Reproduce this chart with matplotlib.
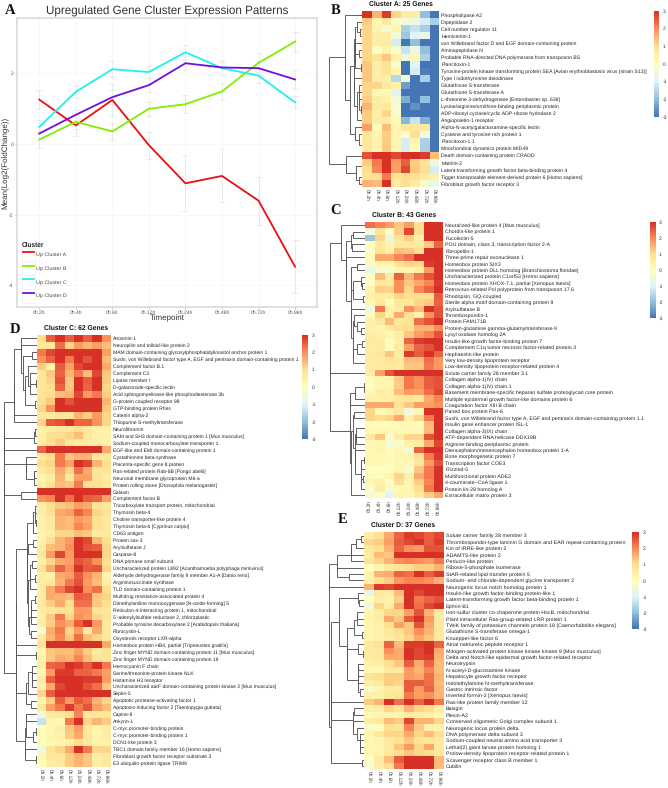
import numpy as np
import matplotlib
matplotlib.use("Agg")
import matplotlib.pyplot as plt
from matplotlib.colors import LinearSegmentedColormap, Normalize
from matplotlib.cm import ScalarMappable
from matplotlib.legend_handler import HandlerTuple, HandlerLine2D
from matplotlib.lines import Line2D
from matplotlib.patches import Patch

plt.rcParams['font.family'] = ['Liberation Sans', 'DejaVu Sans']
plt.rcParams['axes.unicode_minus'] = False
plt.rcParams['text.hinting'] = 'no_hinting'

W, H = 668, 788

#################################################################
# data
#################################################################

timepoints = ["0h.2h", "0h.4h", "0h.6h", "0h.12h", "0h.24h", "0h.48h", "0h.72h", "0h.96h"]

up_a = [1.26, 0.53, 1.25, -0.03, -1.11, -0.90, -1.60, -3.47]
up_b = [0.13, 0.63, 0.36, 1.00, 1.13, 1.49, 2.30, 2.90]
up_c = [0.49, 1.48, 2.12, 2.04, 2.60, 2.15, 1.94, 1.18]
up_d = [0.30, 0.83, 1.33, 1.67, 2.29, 2.17, 2.15, 1.83]
err_a = [0.26, 0.30, 0.45, 0.38, 0.79, 0.75, 0.68, 0.75]
err_b = [0.25, 0.20, 0.25, 0.20, 0.25, 0.23, 0.27, 0.28]
err_c = [0.20, 0.17, 0.23, 0.17, 0.20, 0.18, 0.20, 0.17]
err_d = [0.20, 0.15, 0.20, 0.20, 0.20, 0.20, 0.20, 0.27]

genes_a = ["Phospholipase A2", "Dipeptidase 2", "Cell number regulator 11", "Hemicentin-1",
    "von Willebrand factor D and EGF domain-containing protein", "Aminopeptidase N",
    "Probable RNA-directed DNA polymerase from transposon BS", "Plancitoxin-1",
    "Tyrosine-protein kinase transforming protein SEA [Avian erythroblastosis virus (strain S13)]",
    "Type I iodothyronine deiodinase", "Glutathione S-transferase", "Glutathione S-transferase A",
    "L-threonine 3-dehydrogenase [Enterobacter sp. 638]", "Lysine/arginine/ornithine-binding periplasmic protein",
    "ADP-ribosyl cyclase/cyclic ADP-ribose hydrolase 2", "Angiopoietin-1 receptor",
    "Alpha-N-acetylgalactosamine-specific lectin", "Cysteine and tyrosine-rich protein 1", "Plancitoxin-1.1",
    "Mitochondrial dynamics protein MID49", "Death domain-containing protein CRADD", "Matrilin-2",
    "Latent-transforming growth factor beta-binding protein 4",
    "Tigger transposable element-derived protein 6 [Homo sapiens]", "Fibroblast growth factor receptor 3"]
vals_a = [
    [3, 1.4, 2.6, 1, .5, .5, -1.8, -2.8],
    [1.1, .3, .7, -.2, -.4, -.5, -1, -1.5],
    [1, .3, -.3, .3, -1.5, -1.2, -1.5, -3],
    [1, .5, .5, -.4, -1.7, -.9, -.7, -3],
    [1, .5, .5, -1, -3, -1.8, -3, -3],
    [1, -.1, .4, -.2, -1.2, -.5, -1.8, -3],
    [1, .8, 1.2, .4, -.6, .2, -1.5, -3],
    [1.2, .5, .8, -.3, -3, -.9, -3, -3],
    [1.2, .5, .8, .3, -3, -1, -2.6, -3],
    [1.2, .5, .5, -1.4, -.3, -3, -1.5, -3],
    [1, 1, .6, .4, -2.2, -3, -3, -3],
    [1, .2, .2, -.8, -3, -3, -3, -3],
    [1.1, .5, .4, -.4, -2, -3, -1.8, -3],
    [1.4, .6, .7, -.3, -3, -2.4, -2.7, -3],
    [1.1, .5, 1, -.2, -3, -3, -3, -3],
    [1.1, .5, .5, .2, -1.9, -1.2, -2, -2.8],
    [1.6, .1, 1.3, .3, .7, .7, .7, -3],
    [.7, .3, 1.1, .3, -.2, .9, -.4, -3],
    [.7, .4, 1.1, .3, -1, .3, -1.5, -3],
    [.7, .3, 1.2, .3, -1, .1, -1.5, -3],
    [2.4, 2.8, 3, 2.5, 3, 3, 2.6, 1.3],
    [1.1, 2, 3, 1.7, 2.3, 1.1, .8, -.5],
    [.9, 1.9, 3, 1.6, 2.5, 1.2, .9, -1],
    [.8, .9, 2, .8, .9, .9, .6, .4],
    [1.4, 1.3, 2.8, .6, .9, .6, -.2, -.5]]

genes_b = ["Neuralized-like protein 4 [Mus musculus]", "Chordin-like protein 1", "Fucolectin-5",
    "POU domain, class 3, transcription factor 2-A", "Fibropellin-1", "Three-prime repair exonuclease 1",
    "Homeobox protein SIX3", "Homeobox protein DLL homolog [Branchiostoma floridae]",
    "Uncharacterized protein C1orf53 [Homo sapiens]", "Homeobox protein XHOX-7.1, partial [Xenopus laevis]",
    "Retrovirus-related Pol polyprotein from transposon 17.6", "Rhodopsin, GQ-coupled",
    "Sterile alpha motif domain-containing protein 9", "Arylsulfatase B", "Thrombospondin-1", "Protein FAM171B",
    "Protein-glutamine gamma-glutamyltransferase K", "Lysyl oxidase homolog 2A",
    "Insulin-like growth factor-binding protein 7", "Complement C1q tumor necrosis factor-related protein 3",
    "Hephaestin-like protein", "Very low-density lipoprotein receptor",
    "Low-density lipoprotein receptor-related protein 4", "Solute carrier family 28 member 3.1",
    "Collagen alpha-1(IV) chain", "Collagen alpha-1(IV) chain.1",
    "Basement membrane-specific heparan sulfate proteoglycan core protein",
    "Multiple epidermal growth factor-like domains protein 6", "Coagulation factor XIII B chain",
    "Paired box protein Pax-6", "Sushi, von Willebrand factor type A, EGF and pentraxin domain-containing protein 1.1",
    "Insulin gene enhancer protein ISL-1", "Collagen alpha-3(IX) chain", "ATP-dependent RNA helicase DDX19B",
    "Arginine-binding periplasmic protein", "Diencephalon/mesencephalon homeobox protein 1-A",
    "Bone morphogenetic protein 7", "Transcription factor COE3", "Frizzled-5", "Multifunctional protein ADE2",
    "4-coumarate--CoA ligase 1", "Protein lin-28 homolog A", "Extracellular matrix protein 3"]
vals_b = [
    [2.1, 1.9, 1.7, 1.2, 1.6, .9, 2.8, 2.9],
    [-.4, .8, 0, 1.1, 2.5, .9, 2.9, 3],
    [-1.7, 1, -.6, .8, 1.1, .4, 2.9, 3],
    [0, .6, .3, .6, .7, .6, 1.2, 2.2],
    [-.1, .8, .4, 1.3, 1.2, .9, 3, 3],
    [.1, 1.5, 1.5, 1.9, 2.1, 2.7, 3, 3],
    [-.2, .3, .3, .8, 1, .9, 2.6, 3],
    [-.7, -.3, -.3, .3, .3, .5, 1.7, 3],
    [-.1, 1.3, .6, 2.2, 1.4, 2, 2.4, 2.9],
    [-.1, .7, .6, 1.8, 1.2, 1.5, 1.9, 2.6],
    [.3, 1.1, 1, 1.8, 1, 1.9, 2.2, 2.8],
    [.4, .5, .5, 1, .9, .9, .9, 2.3],
    [.2, .7, .1, .7, .7, 1, 1.1, 2.2],
    [-.5, 2, .4, .6, 1.8, 1.3, 2.9, 2.4],
    [.1, 1, .4, 1.5, .9, .3, 1.8, 2.4],
    [.4, .7, 1.3, .7, .8, 2.1, 2.4, 2.8],
    [.4, .3, .6, .9, .9, 1.4, 1.4, 1.8],
    [.5, .4, .3, .5, 1.2, 1.6, 1.9, 2.4],
    [.6, .5, .1, .4, 2.2, 2.6, 2.9, 3],
    [.5, .6, .1, .6, 1.6, 2.2, 2.4, 2.9],
    [.6, .7, 1.2, .6, 2.6, 2.3, 2.7, 2.2],
    [.6, .6, .8, .7, 1.3, 1.3, 2.1, 1.7],
    [.5, .6, .7, .6, 1.2, 1.2, 2, 1.7],
    [.6, 1.6, 2.4, 2.9, 3, 3, 3, 3],
    [.1, .3, .3, 1.1, 2, 1.8, 2.3, 2.4],
    [.1, .3, .3, 1.1, 2, 1.8, 2.3, 2.4],
    [.2, .5, .4, 1.3, 1.7, 1.6, 2.1, 2.5],
    [.4, .4, .4, .7, .8, .7, 1.5, 1.9],
    [1.5, 1.5, 1.5, .8, 1.2, 1.6, 1.6, 1.8],
    [1, .2, .4, .7, -.4, .3, 3, 3],
    [1, .9, 1, 1.5, .4, 1, 2, 3],
    [.1, .1, .1, .1, .2, .1, 1.3, 3],
    [.2, .2, .2, .2, .2, .2, 1.3, 3],
    [.6, 1.2, -.2, .5, 1, 1, 2.4, 3],
    [.2, .3, -.4, -.2, .4, .6, 1.5, 2.5],
    [.2, .3, .1, .2, -.3, 2.2, 3, 3],
    [.2, .2, .1, .3, .3, .8, 2, 2.6],
    [.2, .2, .1, .2, .2, .7, 1.7, 2.4],
    [0, -.1, .1, .3, -.3, 1.2, 2, 3],
    [.1, .1, .3, 1, .4, 1.5, 2, 3],
    [.3, .4, -.1, .9, .3, 1.1, 1.9, 2.9],
    [-.2, .5, -.2, .2, .3, .9, 2, 2.9],
    [-.3, 0, -.9, .3, .3, .6, 1.1, 1.5]]

genes_c = ["Anosmin-1", "Neuropilin and tolloid-like protein 2",
    "MAM domain-containing glycosylphosphatidylinositol anchor protein 1",
    "Sushi, von Willebrand factor type A, EGF and pentraxin domain-containing protein 1", "Complement factor B.1",
    "Complement C3", "Lipase member I", "D-galactoside-specific lectin",
    "Acid sphingomyelinase-like phosphodiesterase 3b", "G-protein coupled receptor 98", "GTP-binding protein Rhes",
    "Catenin alpha-2", "Thiopurine S-methyltransferase", "Neurofibromin",
    "SAM and SH3 domain-containing protein 1 [Mus musculus]", "Sodium-coupled monocarboxylate transporter 1",
    "EGF-like and EMI domain-containing protein 1", "Cystathionine beta-synthase", "Placenta-specific gene 8 protein",
    "Ras-related protein Rab-8B [Pongo abelii]", "Neuronal membrane glycoprotein M6-a",
    "Protein rolling stone [Drosophila melanogaster]", "Galaxin", "Complement factor B",
    "Tricarboxylate transport protein, mitochondrial", "Thymosin beta-4", "Choline transporter-like protein 4",
    "Thymosin beta-b [Cyprinus carpio]", "CD63 antigen", "Protein sax-3", "Arylsulfatase J", "Caspase-8",
    "DNA primase small subunit", "Uncharacterized protein L892 [Acanthamoeba polyphaga mimivirus]",
    "Aldehyde dehydrogenase family 9 member A1-A [Danio rerio]", "Argininosuccinate synthase",
    "TLD domain-containing protein 1", "Multidrug resistance-associated protein 4",
    "Dimethylaniline monooxygenase [N-oxide-forming] 5", "Reticulon-4-interacting protein 1, mitochondrial",
    "5'-adenylylsulfate reductase 2, chloroplastic", "Probable tyrosine decarboxylase 2 [Arabidopsis thaliana]",
    "Fibrocystin-L", "Oxysterols receptor LXR-alpha", "Homeobox protein HB4, partial [Tripneustes gratilla]",
    "Zinc finger MYND domain-containing protein 11 [Mus musculus]", "Zinc finger MYND domain-containing protein 19",
    "Hemocyanin F chain", "Serine/threonine-protein kinase NLK", "Histamine H3 receptor",
    "Uncharacterized aarF domain-containing protein kinase 2 [Mus musculus]", "Septin-5",
    "Apoptotic protease-activating factor 1", "Apoptosis-inducing factor 2 [Taeniopygia guttata]", "Capine-8",
    "Ankyrin-1", "C-myc promoter-binding protein", "C-myc promoter-binding protein 1", "DCN1-like protein 3",
    "TBC1 domain family member 16 [Homo sapiens]", "Fibroblast growth factor receptor substrate 3",
    "E3 ubiquitin-protein ligase TRIM9"]
vals_c = [
    [.9, 2.3, 3, 2.3, 2.9, 2.3, 3, 1.8],
    [.7, .7, 2.1, 1, 1.7, 1.4, 1.6, 1.3],
    [2, 2.5, 3, 3, 3, 3, 3, 1.6],
    [1.8, 2.2, 3, 2, 3, 2.4, 3, 1.3],
    [1.1, .3, 2.3, 1.6, 2.5, 3, 3, 1.5],
    [.7, 1.2, 2.2, 1.4, 2, 1.3, 2.5, 1.2],
    [.7, 1, 2.4, 1.2, 3, 2.3, 3, 1.1],
    [.7, .9, 2.2, 1.2, 3, 2.2, 3, 1],
    [.8, .9, 1.3, 1.4, 2.5, 1.7, 2, 1.1],
    [.9, 1.2, 3, 2.4, 3, 3, 3, 1.4],
    [1, 1.8, 2.9, 2.7, 3, 3, 3, 1.2],
    [.7, .6, .8, .7, 1.4, 1.1, 1.7, 1],
    [1, 2.3, 2.4, 2.9, 2.2, 2.2, 1.8, 1],
    [.4, .5, .6, .7, .9, .6, .4, .4],
    [.4, .9, .9, 1, 1.3, .7, .4, .4],
    [.5, .9, 1.1, .8, .6, .6, .5, .4],
    [2.2, 3, 3, 3, 3, 3, 3, 1.5],
    [.5, .9, 2, 1.2, 1.4, 1.4, .7, .7],
    [.9, 1, 2, 1.6, 2.9, 2.5, 1.4, .9],
    [.6, .9, 1.5, 1, 2.1, 1.5, .8, .8],
    [.3, .5, 1.4, .7, 1.6, 1.6, .8, .5],
    [.5, .8, 1.3, 1.2, 2, .9, .9, .7],
    [3, 3, 3, 3, 3, 3, 3, 3],
    [1.8, 1.9, 3, 2.1, 3, 2.3, 2.2, 1.6],
    [.5, .9, 1.2, 1.3, 1.6, 1.5, .8, .7],
    [.5, .9, 1.5, 1.6, 2.2, 1.9, 1, .8],
    [.4, .6, 1.4, 1.3, 1.7, 1.5, .9, .7],
    [.4, .7, 1.4, 1.3, 1.9, 1.6, .9, .7],
    [.3, .5, 1, 1, 1.3, 1.2, .6, .6],
    [.4, .9, 1.4, 1.7, 3, 2.5, 1.4, .9],
    [.5, 1.3, 1.4, 1.8, 2.7, 2.4, 2.3, 1],
    [.7, 1.7, 2.5, 1.7, 3, 3, 2.9, 1],
    [.4, 1, 1.5, 1.6, 2.4, 2.2, 1.8, .9],
    [.8, 1.5, 2.2, 1.8, 2.8, 2.3, 2.4, 1],
    [.5, .4, 1.5, 1.6, 2.3, 1.8, 1.4, .3],
    [.5, .7, 1.4, 2, 2.4, 1.7, 1.3, .5],
    [.5, 1.5, 2, 2.5, 3, 1.8, 2.1, .9],
    [.5, 1.5, 1.4, 1.3, 2.3, 2.2, 1.2, 1],
    [.6, 1.1, 1.5, .9, 2.1, 2.1, 1.2, .9],
    [.5, .7, .8, .8, 1.7, 1.7, .8, .7],
    [.4, 1.2, 2, 1, 1.8, 1.6, 1, .8],
    [.5, 1.1, 1.8, 1.5, 2.3, 2.7, 1.7, .7],
    [-.3, 1.5, 2, 1, 1.7, .6, 1.5, .7],
    [.6, 1.4, 1.9, 1.2, 2.1, 1.3, 1, .7],
    [.8, 2.7, 2.8, 2.8, 3, 2.8, 2.8, 1.5],
    [.3, 1.2, 1.3, 1.3, 1.6, 1.1, .6, .8],
    [.4, 1.2, 1.5, 1.4, 1.9, 1.3, .8, .8],
    [.5, 2.2, 2.3, 3, 2.6, 2.3, 3, 2],
    [.3, 1.7, 2.6, 2.6, 2.2, 2.2, 2, 1.6],
    [.5, 2.3, 3, 3, 2.8, 2.6, 2.6, 1.7],
    [.4, 1.5, 2.5, 2.9, 3, 2.4, 2.1, 1.2],
    [1, 2.3, 3, 3, 3, 3, 2.8, 2.7],
    [.3, 1.1, 2.3, 1.7, 2.3, 2.1, 1.4, 1],
    [.7, 1.6, 2, 2.6, 2, 2.4, 1.6, 1.3],
    [-.5, .6, .7, .9, 1.9, .7, .7, .7],
    [-1.2, .3, .2, 2, 3, 1, 1.4, 1.1],
    [0, .3, .5, 1.2, 1.6, .7, .3, .5],
    [.1, .3, .4, 1.1, 1.5, .7, .3, .5],
    [.1, .2, .3, .5, .9, .7, .4, .4],
    [-.5, .8, 1, 1.5, 3, 2, 1, 1],
    [.2, .7, .7, 1.1, 1.4, 1.2, .5, .7],
    [.1, .5, .6, 1.1, 1.4, 1.2, .5, .7]]

genes_d = ["Solute carrier family 28 member 3",
    "Thrombospondin-type laminin G domain and EAR repeat-containing protein", "Kin of IRRE-like protein 2",
    "ADAMTS-like protein 2", "Perlucin-like protein", "Ribose-5-phosphate isomerase",
    "StAR-related lipid transfer protein 5", "Sodium- and chloride-dependent glycine transporter 2",
    "Neurogenic locus notch homolog protein 1", "Insulin-like growth factor-binding protein-like 1",
    "Latent-transforming growth factor beta-binding protein 1", "Ephrin-B1",
    "Iron-sulfur cluster co-chaperone protein HscB, mitochondrial", "Plant intracellular Ras-group-related LRR protein 1",
    "TWiK family of potassium channels protein 18 [Caenorhabditis elegans]", "Glutathione S-transferase omega-1",
    "Knueppel-like factor 6", "Atrial natriuretic peptide receptor 1",
    "Mitogen-activated protein kinase kinase kinase 9 [Mus musculus]",
    "Delta and Notch-like epidermal growth factor-related receptor", "Neurotrypsin", "N-acetyl-D-glucosamine kinase",
    "Hepatocyte growth factor receptor", "Indolethylamine N-methyltransferase", "Gastric intrinsic factor",
    "Inverted formin-2 [Xenopus laevis]", "Ras-like protein family member 12", "Basigin", "Plexin-A2",
    "Conserved oligomeric Golgi complex subunit 1", "Neurogenic locus protein delta", "DNA polymerase delta subunit 3",
    "Sodium-coupled neutral amino acid transporter 3", "Lethal(2) giant larvae protein homolog 1",
    "Prolow-density lipoprotein receptor-related protein 1", "Scavenger receptor class B member 1", "Cubilin"]
vals_d = [
    [.5, .9, 1.5, 2.2, 2.6, 2.5, 2.3, 2.5],
    [1, 1.1, 1.6, 2.3, 2.5, 2.8, 2.3, 2.6],
    [.7, .9, 1.4, 2.2, 1.8, 1.7, 2.4, 2.4],
    [.5, 1.3, 1.2, 3, 3, 3, 3, 3],
    [.8, 1, 1.4, 1.8, 1.9, 1.8, 1.7, 2],
    [0, .3, .7, .8, .9, 1.1, 1.1, 1.4],
    [.3, 1.4, 1.5, 2.2, 2.1, 2.8, 2.3, 2.6],
    [.4, .9, 1.1, 1.7, 1.9, 1.9, 1.8, 1.4],
    [1.4, 2.6, 2.5, 3, 3, 3, 3, 3],
    [-.7, .7, .5, 1.3, 2.7, 2.5, 3, 3],
    [-.1, .5, .4, 1.1, 2.8, 2, 2.2, 2.4],
    [-.5, 1, .5, 1.5, 3, 2.1, 2.5, 2.8],
    [.3, .5, 1, 1, 1.6, 2.4, 1.4, .6],
    [.3, .5, 1.5, 1.2, 2.3, 3, 1.7, .6],
    [.3, .4, .9, 1.6, 1.2, 2.4, 1.5, .6],
    [.3, .4, .7, .9, 1.2, 1.8, 1.4, .7],
    [.3, .4, .6, .7, 1, 1.5, 1.2, .6],
    [.7, .8, 2.2, 1.3, 2.6, 2.6, 2.8, 2.2],
    [.6, .7, 1.8, 1.5, 2.9, 2.5, 2.7, 1.5],
    [.6, .7, 1.5, 1.5, 2.9, 2.5, 2.6, 1.4],
    [.4, .5, .9, 1.2, 2.3, 1.5, 2.2, 1.3],
    [.2, .2, .6, .6, 1.7, 1.4, 1.9, 1.3],
    [.8, .9, 1.1, 1.1, 1.7, 1.5, 2.1, 1.4],
    [.5, .6, 1.1, 1, 2.3, 2.3, 2.1, 1.3],
    [-.2, .3, .6, .6, 2.3, 1.7, 2.2, 1.4],
    [.4, .4, .7, .8, 2, 1.6, 1.8, 1.4],
    [1.1, 1.4, 2.7, 2.1, 3, 2.2, 3, 2],
    [.4, .5, 1, .8, 1.4, 1, .9, .5],
    [.2, .3, .3, .3, .6, .5, .4, .2],
    [.5, .7, 1.3, 1.1, 2.5, 1.4, 1.4, 1],
    [-.2, .1, .9, .8, 1.9, 1.1, .4, .4],
    [.3, .7, 1, 1, 1.5, 1, 1.3, .9],
    [.2, .3, .6, .8, 1.2, .8, .7, .6],
    [.2, .3, .6, 1.2, 1.7, 1, 1.5, .6],
    [.2, .3, .7, .9, 1.2, 1, .9, .7],
    [-.1, .6, 1.3, 2.3, 2.9, 2.7, 2.8, 1.3],
    [-.3, .5, .9, 2, 3, 2.7, 2.8, 1.3]]

#################################################################
# helper functions
#################################################################

heat_cmap = LinearSegmentedColormap.from_list("rdylbu_r",
    ["#4575B4", "#91BFDB", "#E0F3F8", "#FFFFBF", "#FEE090", "#FC8D59", "#D73027"], N=100)
bar_norm = Normalize(-3, 3)
cell_norm = Normalize(-2.75, 2.75)  # my readings ran a bit low, cells saturate a little earlier


def pixel_axes(fig, x0, y0, x1, y1):
    # box given in image pixels, y counted from the top
    return fig.add_axes([x0 / W, 1 - y1 / H, (x1 - x0) / W, (y1 - y0) / H])


def pixel_text(fig, x, y, s, **kw):
    return fig.text(x / W, 1 - y / H, s, **kw)


def draw_dendro(ax, vals):
    # agglomerate neighbouring rows only, so the row order of the heatmap stays
    vals = np.asarray(vals, float)
    nodes = [{'rows': [i], 'pos': i + 0.5, 'h': 0.0} for i in range(len(vals))]
    segs = []
    while len(nodes) > 1:
        dists = [np.mean([np.linalg.norm(vals[a] - vals[b]) for a in nodes[i]['rows'] for b in nodes[i + 1]['rows']])
                 for i in range(len(nodes) - 1)]
        i = int(np.argmin(dists))
        l, r = nodes[i], nodes[i + 1]
        h = max(dists[i], l['h'], r['h'])
        segs.append(([l['h'], h, h, r['h']], [l['pos'], l['pos'], r['pos'], r['pos']]))
        nodes[i:i + 2] = [{'rows': l['rows'] + r['rows'], 'pos': (l['pos'] + r['pos']) / 2, 'h': h}]
    top = nodes[0]['h'] ** 1.6
    for xs, ys in segs:
        ax.plot(np.array(xs) ** 1.6, ys, color="#555555", lw=0.65, solid_joinstyle='miter', solid_capstyle='butt')
    ax.set_xlim(top, 0)
    ax.set_ylim(len(vals), 0)
    ax.axis('off')


def draw_heatmap(fig, vals, genes, title, box, dendro_x, cbar_box, title_pos, tick_rot, label_size):
    x0, y0, x1, y1 = box
    ax = pixel_axes(fig, x0, y0, x1, y1)
    ax.pcolormesh(np.asarray(vals, float), cmap=heat_cmap, norm=cell_norm, edgecolors='none')
    ax.set_ylim(len(vals), 0)
    ax.set_xticks(np.arange(8) + 0.5)
    ax.set_xticklabels(timepoints, rotation=tick_rot, fontsize=3.4, color="#333333", ha='center')
    ax.set_yticks(np.arange(len(genes)) + 0.5)
    ax.set_yticklabels(genes, fontsize=label_size, color="#222222")
    ax.yaxis.tick_right()
    ax.tick_params(length=0, pad=1.4)
    for s in ax.spines.values():
        s.set_visible(False)

    dax = pixel_axes(fig, dendro_x, y0, x0, y1)
    draw_dendro(dax, vals)

    cax = pixel_axes(fig, *cbar_box)
    cb = fig.colorbar(ScalarMappable(norm=bar_norm, cmap=heat_cmap), cax=cax)
    cb.set_ticks([-3, -2, -1, 0, 1, 2, 3])
    cb.outline.set_visible(False)
    cax.tick_params(length=0, pad=2.2, labelsize=3.6, labelcolor="#333333")

    pixel_text(fig, title_pos[0], title_pos[1], title, fontsize=4.9, fontweight='bold', va='center', color="#111111")


#################################################################
# main
#################################################################

def main():
    fig = plt.figure(figsize=(W / 100, H / 100), dpi=100)

    # panel A, ggplot style line chart
    ax = pixel_axes(fig, 17, 18, 317, 307)
    xs = np.arange(len(timepoints))
    lines = [("Up Cluster A", up_a, err_a, "#E81010"), ("Up Cluster B", up_b, err_b, "#80F000"),
             ("Up Cluster C", up_c, err_c, "#20F0F0"), ("Up Cluster D", up_d, err_d, "#7010E0")]
    ax.grid(True, color="#F6F6F6", lw=0.5)
    ax.set_axisbelow(True)
    for name, ys, es, col in lines:
        ax.errorbar(xs, ys, yerr=es, color="#E8E8E8", lw=0.7, capsize=2.2, capthick=0.6, zorder=2)
    handles = []
    for name, ys, es, col in lines:
        ln, = ax.plot(xs, ys, color=col, lw=1.3, zorder=3, solid_joinstyle='round')
        handles.append((Patch(fc='white', ec="#EEEEEE", lw=0.5), Line2D([], [], color=col, lw=1.3)))
    ax.set_xlim(-0.61, 7.6)
    ax.set_ylim(-4.61, 3.57)
    ax.set_xticks(xs)
    ax.set_xticklabels(timepoints)
    ax.set_yticks([-4, -2, 0, 2])
    ax.tick_params(length=1.5, width=0.4, color="#999999", labelsize=3.6, labelcolor="#555555", pad=1.2)
    for s in ax.spines.values():
        s.set_color("#DADADA")
        s.set_linewidth(1.2)
    ax.set_xlabel("Timepoint", fontsize=5.8, color="#333333")
    ax.xaxis.set_label_coords(0.5, -7.5 / 289, transform=ax.transAxes)
    ax.set_ylabel("Mean(Log2(FoldChange))", fontsize=5.8, color="#333333")
    ax.yaxis.set_label_coords(-8 / 300, 0.5, transform=ax.transAxes)
    leg = ax.legend(handles, [l[0] for l in lines], loc='upper left', bbox_to_anchor=(22 / W, 1 - 248 / H),
                    bbox_transform=fig.transFigure, frameon=False, fontsize=3.9, labelspacing=0,
                    handlelength=2.46, handleheight=3.5, handletextpad=0.2, borderpad=0, borderaxespad=0,
                    numpoints=2, handler_map={tuple: HandlerTuple(ndivide=1, pad=0),
                                              Line2D: HandlerLine2D(numpoints=2, marker_pad=0.25)})
    for t in leg.get_texts():
        t.set_color("#444444")
    pixel_text(fig, 22, 244.7, "Cluster", fontsize=4.7, fontweight='bold', va='center', color="#222222")
    pixel_text(fig, 167, 11.5, "Upregulated Gene Cluster Expression Patterns", fontsize=8.4, color="#333333",
               ha='center', va='center')

    # panels B to E, clustered heatmaps
    draw_heatmap(fig, vals_a, genes_a, "Cluster A: 25 Genes", (362.3, 11.3, 439.3, 187.3), 329,
                 (653.7, 11, 659.3, 116.7), (369.3, 4.5), 270, 3.7)
    draw_heatmap(fig, vals_b, genes_b, "Cluster B: 43 Genes", (365, 222, 443.3, 498.3), 330,
                 (650, 222.3, 656, 318.3), (372.3, 215.3), 90, 3.78)
    draw_heatmap(fig, vals_c, genes_c, "Cluster C: 62 Genes", (36.7, 335, 111, 766.7), 4,
                 (302.3, 334.7, 308.3, 439.3), (44, 327.7), 270, 3.58)
    draw_heatmap(fig, vals_d, genes_d, "Cluster D: 37 Genes", (364.3, 532.3, 444, 769.3), 329,
                 (631.7, 532.3, 639.3, 629), (371, 525.3), 270, 3.92)

    # panel letters
    for letter, x, y in [("A", 10, 10), ("B", 336, 10), ("C", 336, 211), ("D", 15, 329), ("E", 343, 519)]:
        pixel_text(fig, x, y, letter, fontsize=10.5, fontweight='bold', family='Liberation Serif',
                   ha='center', va='center', color="#111111")

    fig.savefig("out.png", dpi=100, facecolor='white')


if __name__ == "__main__":
    main()
